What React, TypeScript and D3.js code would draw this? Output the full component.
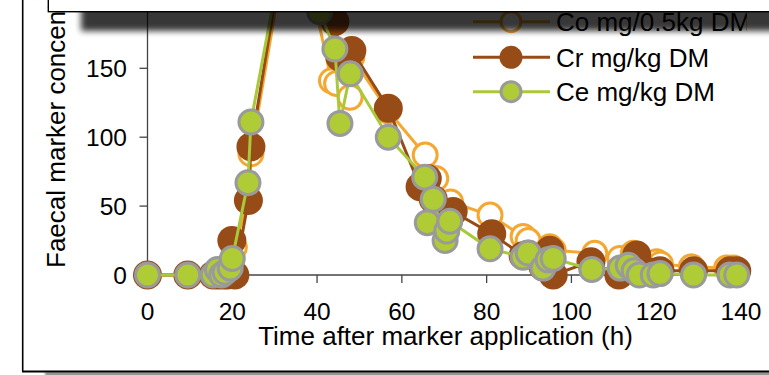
import React from "react";
import * as d3 from "d3";

// ---- data (hours after marker application, faecal concentration) ----
const coHours = [0, 9.5, 15.5, 16.7, 17.8, 18.8, 20.5, 23.8, 24.4, 32, 36, 43.4, 44.6, 47.8, 48.2, 56.8, 65.5, 68, 71.5, 80.8, 88.6, 89.8, 94.9, 95.7, 105.5, 111.4, 114.6, 116, 120.1, 121, 128.3, 136.6, 138.2];
const coValues = [0, 0, 0, 0, 1, 2, 20, 55, 88, 225, 245, 141, 139, 129, 158, 119, 87, 70, 53, 43.5, 28, 25, 20.5, 18, 15.7, 12, 15.7, 11, 9.7, 8, 6, 5, 5];

const crHours = [0, 9.5, 15.5, 16.7, 17.8, 18.8, 19.9, 20.6, 23.8, 24.4, 32, 36, 41, 44.2, 45.4, 48.2, 56.8, 64.3, 66, 67.4, 70.2, 72.1, 81.2, 88.6, 89.8, 93.3, 94.9, 95.7, 104.6, 111.2, 113.4, 115.4, 116, 119.3, 120.9, 128.8, 137.4, 139];
const crValues = [0, 0, 0, 0, 0, 0, 25, 0, 54, 93, 235, 255, 215, 184, 158, 163, 121, 64, 70, 55, 40, 46, 30, 14, 15, 6, 18, 0, 9.7, 0, 6, 14.5, 4, 2, 3, 3, 3, 3];

const ceHours = [0, 9.5, 15.5, 16.5, 17.5, 18.3, 19.5, 20, 23.7, 24.4, 32, 36, 40.6, 44.2, 45.4, 47.8, 56.8, 65.4, 66, 67.4, 70.2, 70.6, 71.3, 80.8, 88.6, 89.8, 93.3, 94.5, 95.7, 104.8, 111.5, 113.4, 114.8, 116, 119.3, 120.9, 128.8, 137.4, 139];
const ceValues = [0, 0, 0, 4, 0, 2, 5, 12, 67, 111, 236, 255, 191, 164, 110, 146, 100, 71, 38, 55, 25, 32, 39, 19, 13, 16, 5, 11, 12, 4, 5, 7, 3, 0, 0, 1, 0, 0, 0];

const xTicks = [0, 20, 40, 60, 80, 100, 120, 140];
const yTicks = [0, 50, 100, 150];
const seriesNames = ["Co mg/0.5kg DM", "Cr mg/kg DM", "Ce mg/kg DM"];

const FONT = "'Liberation Sans', Arial, Helvetica, sans-serif";
const CO = "#F4A832";
const CR = "#974B17";
const CE_LINE = "#A9C83A";
const CE_FILL = "#AFCB35";
const GRAY = "#9A9A9A";

export default function App() {
  const x = d3.scaleLinear().domain([0, 140]).range([147.5, 741]);
  const y = d3.scaleLinear().domain([0, 150]).range([275, 68.3]);

  const mk = (hs: number[], vs: number[]) => hs.map((h, i) => [h, vs[i]] as [number, number]);
  const co = mk(coHours, coValues);
  const cr = mk(crHours, crValues);
  const ce = mk(ceHours, ceValues);

  const line = d3
    .line<[number, number]>()
    .x((d) => x(d[0]))
    .y((d) => y(d[1]));

  const legendRows = [21.7, 57.3, 91.7];

  return (
    <svg
      width={769}
      height={375}
      style={{ position: "absolute", left: 0, top: 0, background: "#fff" }}
    >
      <defs>
        <filter id="shadowBlur" x="-20%" y="-200%" width="140%" height="500%">
          <feGaussianBlur stdDeviation="3.2" />
        </filter>
        <filter id="bottomBlur" x="-10%" y="-300%" width="120%" height="700%">
          <feGaussianBlur stdDeviation="1.2" />
        </filter>
        <clipPath id="legendClip">
          <rect x={0} y={0} width={747} height={375} />
        </clipPath>
      </defs>
      <rect x={0} y={0} width={769} height={375} fill="#fff" />

      {/* outer frame */}
      <rect x={45} y={372} width={760} height={4} fill="#000" opacity={0.45} filter="url(#bottomBlur)" />
      <line x1={22.7} y1={-5} x2={22.7} y2={371.5} stroke="#000" strokeWidth={1.6} />
      <line x1={22} y1={371.5} x2={780} y2={371.5} stroke="#000" strokeWidth={1.8} />

      {/* axes */}
      <line x1={x(0)} y1={-20} x2={x(0)} y2={y(0)} stroke="#444" strokeWidth={1.3} />
      <line x1={x(0)} y1={y(0)} x2={x(140)} y2={y(0)} stroke="#444" strokeWidth={1.3} />
      {yTicks.map((t) => (
        <g key={"y" + t}>
          <line x1={x(0) - 8} x2={x(0)} y1={y(t)} y2={y(t)} stroke="#444" strokeWidth={1.3} />
          <text x={127} y={y(t) + 8.8} textAnchor="end" fontFamily={FONT} fontSize={24.5} fill="#000">
            {t}
          </text>
        </g>
      ))}
      {xTicks.map((t) => (
        <g key={"x" + t}>
          <line x1={x(t)} x2={x(t)} y1={y(0)} y2={y(0) + 8} stroke="#444" strokeWidth={1.3} />
          <text x={x(t)} y={320} textAnchor="middle" fontFamily={FONT} fontSize={24.5} fill="#000">
            {t}
          </text>
        </g>
      ))}
      <text x={445.5} y={345} textAnchor="middle" fontFamily={FONT} fontSize={26} fill="#000">
        Time after marker application (h)
      </text>
      <text
        transform="rotate(-90)"
        x={-268}
        y={65}
        textAnchor="start"
        fontFamily={FONT}
        fontSize={26}
        fill="#000"
      >
        Faecal marker concentration
      </text>

      {/* Co series */}
      <path d={line(co) || ""} fill="none" stroke={CO} strokeWidth={3} />
      {co.map((d, i) => (
        <circle key={"co" + i} cx={x(d[0])} cy={y(d[1])} r={12} fill="#fff" stroke={CO} strokeWidth={3} />
      ))}
      {/* Cr series */}
      <path d={line(cr) || ""} fill="none" stroke={CR} strokeWidth={3} />
      {cr.map((d, i) => (
        <circle key={"cr" + i} cx={x(d[0])} cy={y(d[1])} r={14.5} fill={CR} />
      ))}
      {/* Ce series */}
      <path d={line(ce) || ""} fill="none" stroke={CE_LINE} strokeWidth={3} />
      {ce.map((d, i) => (
        <circle key={"ce" + i} cx={x(d[0])} cy={y(d[1])} r={12} fill={CE_FILL} stroke={GRAY} strokeWidth={3} />
      ))}

      {/* legend */}
      <g clipPath="url(#legendClip)">
        {seriesNames.map((name, i) => {
          const ry = legendRows[i];
          const col = i === 0 ? CO : i === 1 ? CR : CE_LINE;
          return (
            <g key={name}>
              <line x1={473} x2={550} y1={ry} y2={ry} stroke={col} strokeWidth={3} />
              {i === 0 && <circle cx={511} cy={ry} r={10} fill="#fff" stroke={CO} strokeWidth={3} />}
              {i === 1 && <circle cx={511} cy={ry} r={11.5} fill={CR} />}
              {i === 2 && <circle cx={511} cy={ry} r={10} fill={CE_FILL} stroke={GRAY} strokeWidth={3} />}
              <text x={556} y={ry + 9.5} fontFamily={FONT} fontSize={26} fill="#000">
                {name}
              </text>
            </g>
          );
        })}
      </g>

      {/* shadow cast by the box above */}
      <rect x={81} y={-20} width={760} height={51} fill="#000" opacity={0.78} filter="url(#shadowBlur)" />
      {/* box above */}
      <rect x={48.3} y={-20} width={800} height={31.7} fill="#fff" stroke="#000" strokeWidth={1.4} />
    </svg>
  );
}
